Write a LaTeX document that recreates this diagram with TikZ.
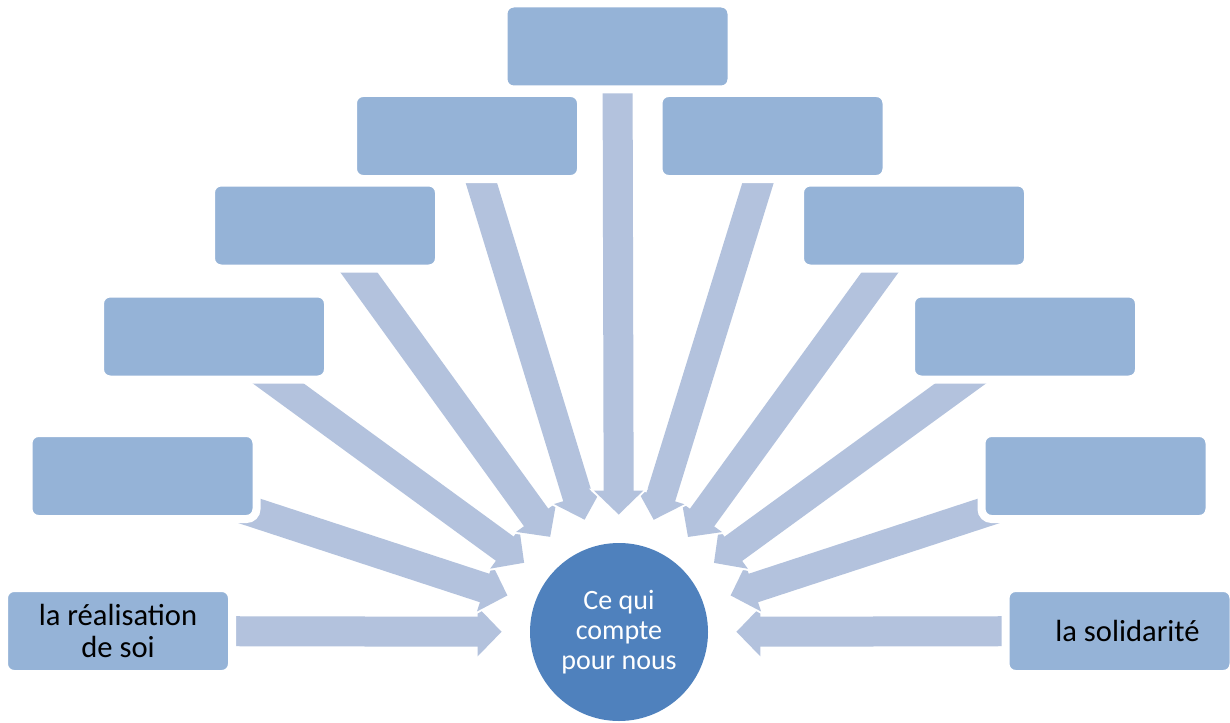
\documentclass[tikz,border=0pt]{standalone}
\usepackage{fontspec}
\setmainfont{Carlito}
\usepackage{xcolor}
\usepackage{tikz}
\usetikzlibrary{arrows.meta,backgrounds}

\definecolor{boxblue}{HTML}{95B3D7}
\definecolor{arrowblue}{HTML}{B3C2DD}
\definecolor{hubblue}{HTML}{4F81BD}

\begin{document}
\begin{tikzpicture}[x=0.5pt,y=-0.5pt,
  valbox/.style={rectangle,rounded corners=5pt,fill=boxblue,draw=white,line width=4pt,
    minimum width=114pt,minimum height=43pt,inner sep=0pt,align=center,
    font=\fontsize{15.3}{16}\selectfont},
  hub/.style={circle,fill=hubblue,minimum size=89pt,inner sep=0pt,align=center,
    text=white,font=\fontsize{14}{15}\selectfont},
  flowback/.style={draw=white,line width=17pt,shorten <=-20pt,shorten >=12.6pt,
    -{Triangle[length=14.4pt,width=28.8pt]}},
  flow/.style={draw=arrowblue,line width=15pt,shorten <=-20pt,shorten >=14pt,
    -{Triangle[length=12pt,width=24pt]}}]
\useasboundingbox (0,0) rectangle (1230,722);

% values, from left to right
\node[valbox] (b0) at (118,631) {la réalisation\\de soi};
\node[valbox] (b1) at (142.5,476) {};
\node[valbox] (b2) at (214,336.5) {};
\node[valbox] (b3) at (325,225.5) {};
\node[valbox] (b4) at (467,136) {};
\node[valbox] (b5) at (617.5,46.5) {};
\node[valbox] (b6) at (772.5,136) {};
\node[valbox] (b7) at (914,225.5) {};
\node[valbox] (b8) at (1025,336.5) {};
\node[valbox] (b9) at (1095.5,476) {};
\node[valbox] (b10) at (1119.5,631) {\hspace{8pt}la solidarité};

\node[hub] (hub) at (619,632) {Ce qui\\compte\\pour nous};

% arrows behind the boxes
\begin{scope}[on background layer]
\draw[flowback] (b0) -- (hub); \draw[flow] (b0) -- (hub);
\draw[flowback] (b1) -- (hub); \draw[flow] (b1) -- (hub);
\draw[flowback] (b2) -- (hub); \draw[flow] (b2) -- (hub);
\draw[flowback] (b3) -- (hub); \draw[flow] (b3) -- (hub);
\draw[flowback] (b4) -- (hub); \draw[flow] (b4) -- (hub);
\draw[flowback] (b10) -- (hub); \draw[flow] (b10) -- (hub);
\draw[flowback] (b9) -- (hub); \draw[flow] (b9) -- (hub);
\draw[flowback] (b8) -- (hub); \draw[flow] (b8) -- (hub);
\draw[flowback] (b7) -- (hub); \draw[flow] (b7) -- (hub);
\draw[flowback] (b6) -- (hub); \draw[flow] (b6) -- (hub);
\draw[flowback] (b5) -- (hub); \draw[flow] (b5) -- (hub);
\end{scope}
\end{tikzpicture}
\end{document}
